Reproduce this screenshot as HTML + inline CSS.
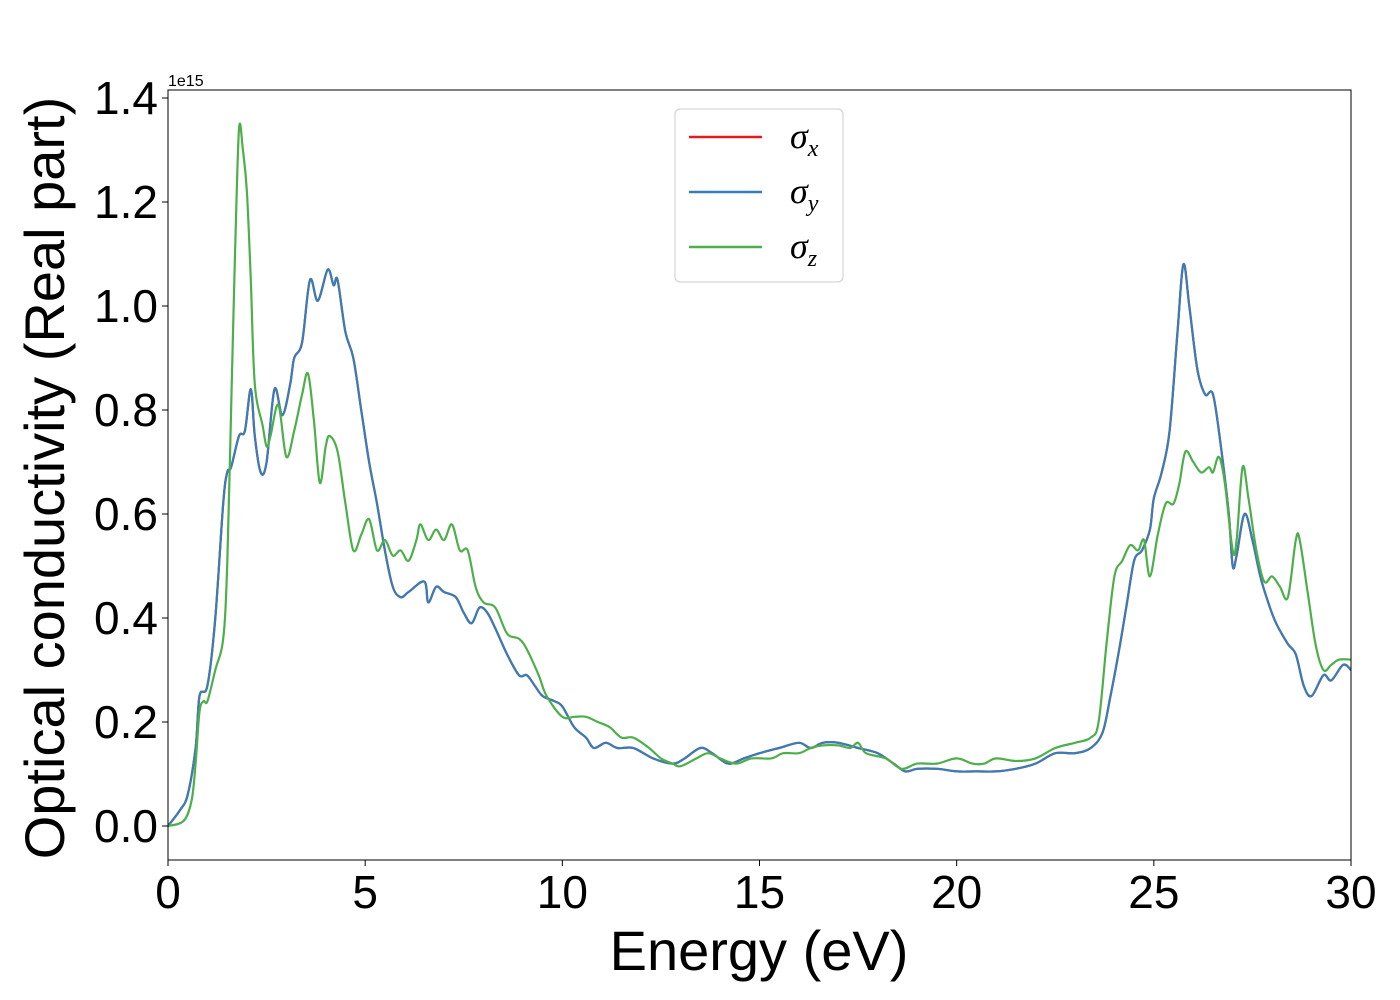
<!DOCTYPE html>
<html><head><meta charset="utf-8"><style>
html,body{margin:0;padding:0;background:#fff;overflow:hidden;}
svg{display:block;font-family:"Liberation Sans","DejaVu Sans",sans-serif;}
</style></head><body>
<svg id="chart" width="1400" height="1000" viewBox="0 0 1400 1000">
<g id="plot"></g>
<text x="168" y="86" font-size="16" font-family="Liberation Sans, sans-serif">1e15</text>
<text x="759" y="970" font-size="56" text-anchor="middle" font-family="Liberation Sans, sans-serif">Energy (eV)</text>
<text transform="translate(64,478) rotate(-90)" font-size="56" text-anchor="middle" font-family="Liberation Sans, sans-serif">Optical conductivity (Real part)</text>
<g font-family="Liberation Serif, serif" font-style="italic">
<rect x="675" y="109" width="168" height="173" rx="5" fill="#fff" fill-opacity="0.8" stroke="#ccc"/>
<g><line x1="689" x2="762" y1="137" y2="137" stroke="#e41a1c" stroke-width="2.5"/><text x="790" y="148" font-size="36">σ<tspan font-size="24" dy="8">x</tspan></text></g>
<g><line x1="689" x2="762" y1="192" y2="192" stroke="#377eb8" stroke-width="2.5"/><text x="790" y="203" font-size="36">σ<tspan font-size="24" dy="8">y</tspan></text></g>
<g><line x1="689" x2="762" y1="247" y2="247" stroke="#4daf4a" stroke-width="2.5"/><text x="790" y="258" font-size="36">σ<tspan font-size="24" dy="8">z</tspan></text></g>
</g>
</svg>
<script>
const bx=[0,0.3,0.5,0.7,0.8,1.0,1.2,1.4,1.5,1.6,1.8,1.95,2.1,2.2,2.35,2.5,2.7,2.9,3.1,3.2,3.4,3.6,3.8,4.05,4.2,4.3,4.5,4.7,4.9,5.1,5.3,5.5,5.7,5.9,6.1,6.5,6.6,6.8,7.0,7.3,7.5,7.7,7.9,8.1,8.3,8.6,8.9,9.1,9.3,9.5,9.8,10.0,10.3,10.6,10.8,11.1,11.4,11.8,12.3,12.8,13.1,13.5,13.8,14.2,14.6,15.0,15.5,16.0,16.3,16.6,17.0,17.5,18.0,18.4,18.7,19.0,19.5,20.0,20.5,21.0,21.5,22.0,22.5,23.0,23.4,23.7,23.9,24.1,24.3,24.5,24.7,24.9,25.0,25.2,25.4,25.6,25.75,25.9,26.1,26.3,26.5,26.7,26.9,27.0,27.1,27.3,27.5,27.7,27.9,28.1,28.4,28.6,28.8,29.0,29.3,29.5,29.8,30];
const sigmaXY=[0,0.03,0.06,0.15,0.25,0.27,0.4,0.62,0.68,0.69,0.75,0.76,0.84,0.75,0.68,0.7,0.84,0.79,0.85,0.9,0.93,1.05,1.01,1.07,1.04,1.05,0.95,0.9,0.8,0.7,0.62,0.53,0.46,0.44,0.45,0.47,0.43,0.46,0.45,0.44,0.41,0.39,0.42,0.41,0.38,0.33,0.29,0.29,0.27,0.25,0.24,0.23,0.19,0.17,0.15,0.16,0.15,0.15,0.13,0.12,0.13,0.15,0.14,0.12,0.13,0.14,0.15,0.16,0.15,0.16,0.16,0.15,0.14,0.12,0.105,0.11,0.11,0.105,0.105,0.105,0.11,0.12,0.14,0.14,0.15,0.18,0.25,0.33,0.42,0.51,0.53,0.57,0.63,0.68,0.76,0.95,1.08,1.0,0.88,0.83,0.83,0.73,0.6,0.5,0.52,0.6,0.55,0.48,0.43,0.39,0.35,0.33,0.27,0.25,0.29,0.28,0.31,0.3];
const gx=[0,0.4,0.6,0.7,0.8,0.9,1.0,1.2,1.4,1.5,1.6,1.7,1.8,1.9,2.0,2.1,2.2,2.4,2.5,2.6,2.8,3.0,3.2,3.4,3.55,3.7,3.85,4.0,4.1,4.3,4.5,4.7,4.9,5.1,5.3,5.5,5.7,5.9,6.1,6.3,6.4,6.6,6.8,7.0,7.2,7.4,7.6,7.8,8.0,8.3,8.6,8.9,9.1,9.4,9.6,10.0,10.3,10.6,10.9,11.2,11.5,11.8,12.2,12.5,12.8,13.0,13.4,13.7,14.0,14.4,14.8,15.3,15.6,16.0,16.3,16.6,17.0,17.3,17.5,17.7,18.2,18.6,19.0,19.5,20.0,20.4,20.7,21.0,21.5,22.0,22.5,23.0,23.4,23.6,23.8,24.0,24.2,24.4,24.6,24.75,24.9,25.1,25.3,25.5,25.65,25.8,26.0,26.2,26.4,26.5,26.65,26.8,27.0,27.1,27.25,27.4,27.6,27.8,28.0,28.2,28.4,28.6,28.7,28.9,29.1,29.3,29.5,29.7,30];
const sigmaZ=[0,0.01,0.05,0.12,0.22,0.24,0.24,0.3,0.36,0.5,0.8,1.1,1.34,1.3,1.22,1.05,0.85,0.77,0.73,0.75,0.81,0.71,0.76,0.83,0.87,0.78,0.66,0.73,0.75,0.72,0.62,0.53,0.56,0.59,0.53,0.55,0.52,0.53,0.51,0.55,0.58,0.55,0.57,0.55,0.58,0.53,0.53,0.46,0.43,0.42,0.37,0.36,0.34,0.29,0.25,0.21,0.21,0.21,0.2,0.19,0.17,0.17,0.15,0.13,0.12,0.115,0.13,0.14,0.13,0.12,0.13,0.13,0.14,0.14,0.15,0.155,0.155,0.15,0.16,0.14,0.13,0.11,0.12,0.12,0.13,0.12,0.12,0.13,0.125,0.13,0.15,0.16,0.17,0.2,0.35,0.48,0.51,0.54,0.53,0.55,0.48,0.56,0.62,0.62,0.66,0.72,0.7,0.68,0.69,0.68,0.71,0.66,0.53,0.55,0.69,0.63,0.53,0.47,0.48,0.46,0.44,0.55,0.55,0.45,0.35,0.3,0.31,0.32,0.32];
const xTicks=[0,5,10,15,20,25,30];
const yTicks=[0.0,0.2,0.4,0.6,0.8,1.0,1.2,1.4];
const L=168,R=1351,T=90,B=860;
const X=v=>L+(v-0)*(R-L)/30;
const Y=v=>826-v*520;
const NS="http://www.w3.org/2000/svg";
const g=document.getElementById('plot');
function mk(tag,attrs,parent){const e=document.createElementNS(NS,tag);for(const k in attrs)e.setAttribute(k,attrs[k]);(parent||g).appendChild(e);return e;}
function path(xs,ys){
  const p=xs.map((x,i)=>[X(x),Y(ys[i])]);
  let d='M'+p[0][0].toFixed(1)+','+p[0][1].toFixed(1);
  for(let i=0;i<p.length-1;i++){
    const p0=p[Math.max(0,i-1)],p1=p[i],p2=p[i+1],p3=p[Math.min(p.length-1,i+2)];
    const c1x=p1[0]+(p2[0]-p0[0])/6,c1y=p1[1]+(p2[1]-p0[1])/6;
    const c2x=p2[0]-(p3[0]-p1[0])/6,c2y=p2[1]-(p3[1]-p1[1])/6;
    d+=`C${c1x.toFixed(1)},${c1y.toFixed(1)} ${c2x.toFixed(1)},${c2y.toFixed(1)} ${p2[0].toFixed(1)},${p2[1].toFixed(1)}`;
  }
  return d;
}
const cp=mk('clipPath',{id:'clip'});
mk('rect',{x:L,y:T,width:R-L,height:B-T},cp);
const sx=mk('path',{d:path(bx,sigmaXY),fill:'none',stroke:'#e41a1c','stroke-width':2.2,'clip-path':'url(#clip)'});


const sy=mk('path',{d:path(bx,sigmaXY),fill:'none',stroke:'#377eb8','stroke-width':2.2,'clip-path':'url(#clip)'});


const sz=mk('path',{d:path(gx,sigmaZ),fill:'none',stroke:'#4daf4a','stroke-width':2.2,'clip-path':'url(#clip)'});


const fr=mk('rect',{x:L,y:T,width:R-L,height:B-T,fill:'none',stroke:'#000','stroke-width':1});


xTicks.forEach(t=>{
  mk('line',{x1:X(t),x2:X(t),y1:B,y2:B+6,stroke:'#000','stroke-width':1});
  const tx=mk('text',{x:X(t),y:B+48,'font-size':46,'text-anchor':'middle'});tx.textContent=t;
  
  
});
yTicks.forEach(t=>{
  mk('line',{x1:L-6,x2:L,y1:Y(t),y2:Y(t),stroke:'#000','stroke-width':1});
  const tx=mk('text',{x:L-10,y:Y(t)+16,'font-size':46,'text-anchor':'end'});tx.textContent=t.toFixed(1);
  
  
});
</script>
</body></html>
